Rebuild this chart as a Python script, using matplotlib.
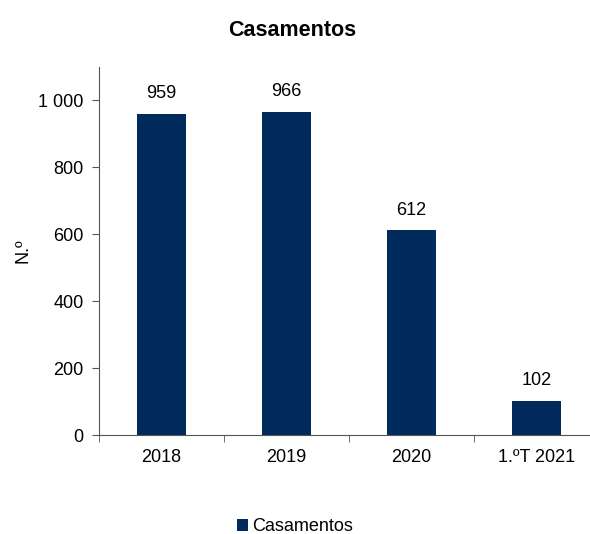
import matplotlib
matplotlib.use("Agg")
import matplotlib.pyplot as plt
from matplotlib.ticker import FuncFormatter

categories = ["2018", "2019", "2020", "1.ºT 2021"]
values = [959, 966, 612, 102]

plt.rcParams["font.family"] = ["Liberation Sans", "DejaVu Sans"]
bar_color = "#002B5C"
fs = 13

fig = plt.figure(figsize=(5.9, 5.34), dpi=100)
ax = fig.add_axes([99 / 590, 99 / 534, 500 / 590, 368 / 534])

x = list(range(len(categories)))
bars = ax.bar(x, values, width=0.39, color=bar_color, label="Casamentos")
for xi, v in zip(x, values):
    ax.text(xi, v + 35, str(v), ha="center", va="bottom", fontsize=fs)

ax.set_xlim(-0.5, len(categories) - 0.5)
ax.set_ylim(0, 1100)
ax.set_yticks(range(0, 1001, 200))
ax.yaxis.set_major_formatter(FuncFormatter(lambda v, p: f"{int(v):,}".replace(",", " ")))
ax.set_xticks(x)
ax.set_xticklabels(categories)
ax.set_xticks([i - 0.5 for i in range(len(categories) + 1)], minor=True)
ax.tick_params(axis="x", which="major", length=0, pad=10, labelsize=fs)
ax.tick_params(axis="x", which="minor", length=5, color="#555555")
ax.tick_params(axis="y", length=5, color="#555555", labelsize=fs, pad=6)

for side in ["top", "right"]:
    ax.spines[side].set_visible(False)
for side in ["left", "bottom"]:
    ax.spines[side].set_color("#555555")

ax.set_ylabel("N.º", fontsize=fs, labelpad=5)
fig.suptitle("Casamentos", fontsize=15.5, fontweight="bold", x=0.495, y=0.963)

fig.legend(handles=[bars], labels=["Casamentos"], loc="lower center",
           bbox_to_anchor=(0.5, -0.033), frameon=False, fontsize=fs,
           handlelength=0.6, handleheight=0.6, handletextpad=0.2)

fig.savefig("out.png", dpi=100)
